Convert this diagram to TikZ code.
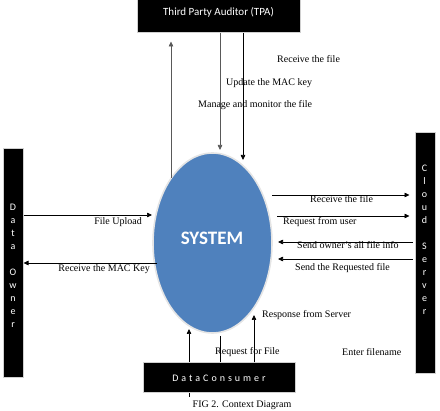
\documentclass[tikz,border=0pt]{standalone}
\usepackage{fontspec}
\setmainfont{Liberation Serif}
\newfontfamily\boxfont{Carlito}
\newfontfamily\boxfontsp{Carlito}[LetterSpace=30]
\usetikzlibrary{arrows.meta,shapes.geometric}
\definecolor{sysblue}{HTML}{4F81BD}
\definecolor{boxedge}{HTML}{D0D0D0}
\begin{document}
\begin{tikzpicture}[x=1pt,y=-1pt,
  blackbox/.style={draw=boxedge, line width=1pt, fill=black, text=white, inner sep=0pt},
  boxtext/.style={text=white, inner sep=0pt, align=center},
  arr/.style={-{Triangle[length=5pt,width=4.5pt]}, line width=0.7pt},
  lbl/.style={font=\fontsize{10}{12}\selectfont, inner sep=0pt}]
\useasboundingbox (0,0) rectangle (440,411);

% line behind consumer box
\coordinate (b1s) at (189,397);
\coordinate (b1) at (189,329);
\draw[arr] (b1s) -- (b1);

% boxes
\node[blackbox, minimum width=163pt, minimum height=42pt,
      font=\boxfont\fontsize{11}{13}\selectfont] (tpa) at (218.5,12) {Third Party Auditor (TPA)};
\node[blackbox, minimum width=20pt, minimum height=229pt] (owner) at (13,263.5) {};
\node[boxtext, font=\boxfont\fontsize{10}{13}\selectfont] (ownertxt) at (13,265.5)
  {D\\a\\t\\a\\[13pt]O\\w\\n\\e\\r};
\node[blackbox, minimum width=20pt, minimum height=241pt] (cloud) at (425,253.5) {};
\node[boxtext, font=\boxfont\fontsize{10}{13}\selectfont] (cloudtxt) at (424.5,239.5)
  {C\\l\\o\\u\\d\\[13pt]S\\e\\r\\v\\e\\r};
\node[blackbox, minimum width=152pt, minimum height=30pt,
      font=\boxfontsp\fontsize{10}{12}\selectfont] (cons) at (219,378) {DataConsumer};

% system ellipse
\node[ellipse, fill=sysblue, draw=gray!20, line width=1.6pt, inner sep=0pt,
      minimum width=119pt, minimum height=180pt] (sys) at (212.5,243) {};
\node[text=white, font=\boxfont\bfseries\fontsize{19}{21}\selectfont, inner sep=0pt] (systxt) at (212,238) {SYSTEM};

% TPA connectors
\coordinate (t1) at (171,178);
\draw[arr, gray!70!black, shorten >=8pt] (t1) -- (t1 |- tpa.south);
\coordinate (t2) at (220,150);
\draw[arr, gray!70!black] (t2 |- tpa.south) -- (t2);
\coordinate (t3) at (243,160);
\draw[arr] (t3 |- tpa.south) -- (t3);
\node[lbl, anchor=west] (l1) at (277,59) {Receive the file};
\node[lbl, anchor=west] (l2) at (226,83) {Update the MAC key};
\node[lbl, anchor=west] (l3) at (198,105) {Manage and monitor the file};

% Data owner connectors
\coordinate (fu) at (152,215);
\draw[arr] (owner.east |- fu) -- (fu);
\node[lbl, anchor=east] (l4) at (142,222) {File Upload};
\coordinate (mk) at (157,263);
\draw[arr] (mk) -- (owner.east |- mk);
\node[lbl, anchor=east] (l5) at (150,269) {Receive the MAC Key};

% Cloud connectors
\coordinate (r1) at (272,195);
\draw[arr, shorten >=5pt] (r1) -- (r1 -| cloud.west);
\node[lbl, anchor=west] (l6) at (310,199.5) {Receive the file};
\coordinate (r2) at (277,216);
\draw[arr, shorten >=5pt] (r2) -- (r2 -| cloud.west);
\node[lbl, anchor=west] (l7) at (283,222) {Request from user};
\coordinate (r3) at (278,242);
\draw[arr, shorten <=2pt] (r3 -| cloud.west) -- (r3);
\node[lbl, anchor=west] (l8) at (297,245) {Send owner's all file info};
\coordinate (r4) at (278,259);
\draw[arr, shorten <=2pt] (r4 -| cloud.west) -- (r4);
\node[lbl, anchor=west] (l9) at (295,268) {Send the Requested file};

% Consumer connectors
\coordinate (b2) at (220,336);
\draw[line width=0.7pt] (b2) -- (b2 |- cons.north);
\coordinate (b3) at (254,315);
\draw[arr] (b3 |- cons.north) -- (b3);
\node[lbl, anchor=west] (l10) at (262,315) {Response from Server};
\node[lbl, anchor=west] (l11) at (215,352) {Request for File};
\node[lbl, anchor=west] (l12) at (342,352) {Enter filename};

% caption
\node[lbl, anchor=north] (cap) at (242,400.5) {FIG 2. Context Diagram};
\end{tikzpicture}
\end{document}
